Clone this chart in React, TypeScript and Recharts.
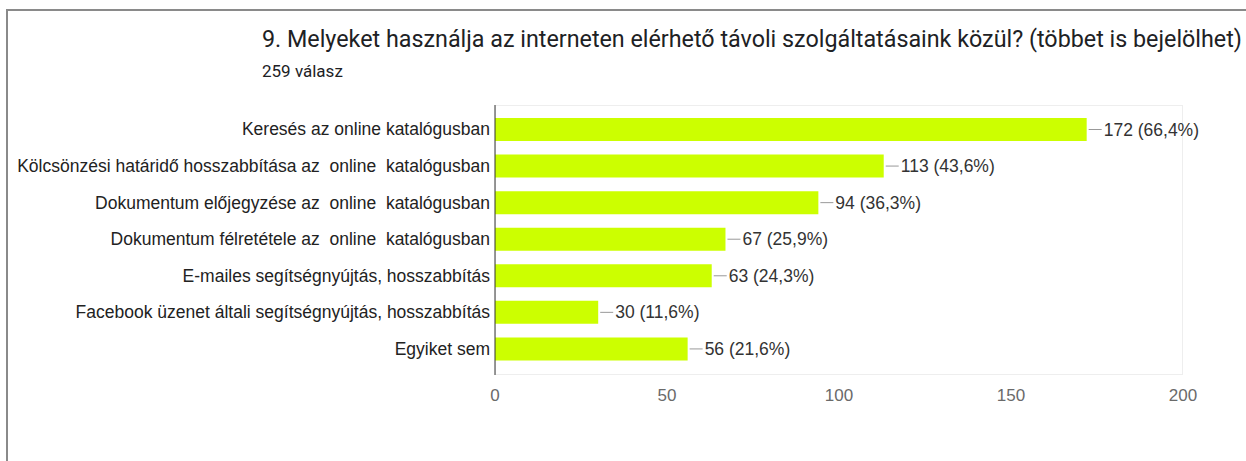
import { BarChart, Bar, XAxis, YAxis, LabelList } from 'recharts';

const categories = [
  'Keresés az online katalógusban',
  'Kölcsönzési határidő hosszabbítása az  online  katalógusban',
  'Dokumentum előjegyzése az  online  katalógusban',
  'Dokumentum félretétele az  online  katalógusban',
  'E-mailes segítségnyújtás, hosszabbítás',
  'Facebook üzenet általi segítségnyújtás, hosszabbítás',
  'Egyiket sem',
];
const counts = [172, 113, 94, 67, 63, 30, 56];
const percents = ['66,4%', '43,6%', '36,3%', '25,9%', '24,3%', '11,6%', '21,6%'];
const xTicks = [0, 50, 100, 150, 200];

const data = categories.map((name, i) => ({
  name,
  value: counts[i],
  label: `${counts[i]} (${percents[i]})`,
}));

const FONT = 'Liberation Sans, Arial, sans-serif';

const ValueLabel = (props: any) => {
  const { x, y, width, height, value } = props;
  const end = x + width;
  const cy = y + height / 2;
  return (
    <g>
      <line x1={end + 2} x2={end + 15} y1={cy} y2={cy} stroke="#999" strokeWidth={1} />
      <text x={end + 17} y={cy} dy="0.35em" fontSize={17.5} fill="#333" fontFamily={FONT}>
        {value}
      </text>
    </g>
  );
};

const CategoryTick = (props: any) => {
  const { x, y, payload } = props;
  return (
    <text x={x - 3} y={y} dy="0.35em" textAnchor="end" fontSize={17.5} fill="#222" fontFamily={FONT} style={{ whiteSpace: 'pre' }} xmlSpace="preserve">
      {payload.value}
    </text>
  );
};

const App = () => {
  return (
    <div style={{ position: 'absolute', left: 0, top: 0, width: 1246, height: 461, background: '#fff' }}>
      <div style={{ position: 'absolute', left: 6, top: 9, width: 1240, height: 452, borderLeft: '2px solid #8a8a8a', borderTop: '2px solid #8a8a8a' }} />
      <div style={{ position: 'absolute', left: 495, top: 105, width: 688, height: 270, border: '1px solid #eeeeee', boxSizing: 'border-box' }} />
      <div style={{ position: 'absolute', left: 262, top: 28, fontFamily: 'Roboto, sans-serif', fontSize: 23.3, lineHeight: 1, color: '#202124', whiteSpace: 'nowrap' }}>
        9. Melyeket használja az interneten elérhető távoli szolgáltatásaink közül? (többet is bejelölhet)
      </div>
      <div style={{ position: 'absolute', left: 262, top: 63, fontFamily: 'Roboto, sans-serif', fontSize: 17, lineHeight: 1, color: '#202124' }}>
        259 válasz
      </div>
      <div style={{ position: 'absolute', left: 0, top: 0 }}>
        <BarChart
          width={1246}
          height={461}
          data={data}
          layout="vertical"
          margin={{ top: 105, right: 63, bottom: 56, left: 0 }}
        >
          <XAxis
            type="number"
            domain={[0, 200]}
            ticks={xTicks}
            axisLine={false}
            tickLine={false}
            tickSize={0}
            tickMargin={14}
            height={30}
            tick={{ fill: '#6a6a6a', fontSize: 17, fontFamily: FONT }}
          />
          <YAxis
            type="category"
            dataKey="name"
            width={495}
            padding={{ top: 6, bottom: 8 }}
            axisLine={{ stroke: '#333', strokeWidth: 1 }}
            tickLine={false}
            tickSize={0}
            interval={0}
            tick={CategoryTick}
          />
          <Bar dataKey="value" fill="#ccff00" barSize={23} isAnimationActive={false}>
            <LabelList dataKey="label" content={ValueLabel} />
          </Bar>
        </BarChart>
      </div>
    </div>
  );
};

export default App;
